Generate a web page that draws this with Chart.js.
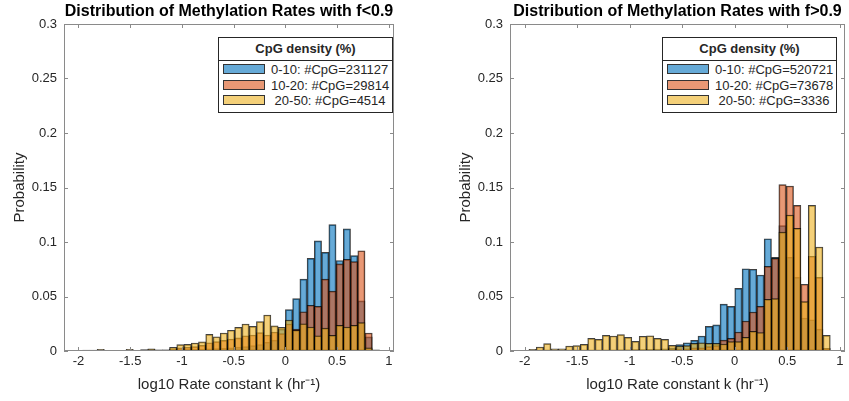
<!DOCTYPE html>
<html>
<head>
<meta charset="utf-8">
<script src="https://cdn.jsdelivr.net/npm/chart.js@4.4.1/dist/chart.umd.min.js"></script>
<style>
  html, body { margin: 0; padding: 0; background: #fff; }
  #wrap { position: relative; width: 849px; height: 401px; overflow: hidden; }
  canvas { position: absolute; top: 0; }
  .legend { position: absolute; top: 37px; width: 175px; height: 76px; border: 1px solid #262626;
            background: #fff; box-sizing: border-box; font-family: 'Liberation Sans', Arial, sans-serif; color: #262626; }
  .legend .head { position: absolute; left: 0; right: 0; top: 0; height: 22px; line-height: 21px; text-align: center;
                  font-weight: bold; font-size: 13px; border-bottom: 1px solid #262626; }
  .legend .row { position: absolute; left: 4px; height: 15px; width: 165px; font-size: 13px; line-height: 15px; white-space: pre; }
  .legend .sw { position: absolute; left: 0; top: 2px; width: 42px; height: 10px; border: 1px solid #333; box-sizing: border-box; }
  .legend .txt { position: absolute; left: 48px; top: 0; }
</style>
</head>
<body>
<div id="wrap">
  <canvas id="chartLow" width="420" height="401" style="left:0px"></canvas>
  <canvas id="chartHigh" width="419" height="401" style="left:430px"></canvas>
  <div class="legend" id="legendLow" style="left:218px"></div>
  <div class="legend" id="legendHigh" style="left:662px"></div>
</div>
<script>
// bin centres of the histograms (bin width 0.07)
const binCenters = [-1.995, -1.925, -1.855, -1.785, -1.715, -1.645, -1.575, -1.505, -1.435, -1.365,
                    -1.295, -1.225, -1.155, -1.085, -1.015, -0.945, -0.875, -0.805, -0.735, -0.665,
                    -0.595, -0.525, -0.455, -0.385, -0.315, -0.245, -0.175, -0.105, -0.035, 0.035,
                    0.105, 0.175, 0.245, 0.315, 0.385, 0.455, 0.525, 0.595, 0.665, 0.735,
                    0.805, 0.875];

const xTickVals = [-2, -1.5, -1, -0.5, 0, 0.5, 1];
const yTickVals = [0, 0.05, 0.1, 0.15, 0.2, 0.25, 0.3];

const legendTitle = 'CpG density (%)';
const legendLow = ['0-10: #CpG=231127', '10-20: #CpG=29814', ' 20-50: #CpG=4514'];
const legendHigh = ['0-10: #CpG=520721', '10-20: #CpG=73678', ' 20-50: #CpG=3336'];

// f < 0.9
const lowBlue = [0, 0.0003, 0.0002, 0.0005, 0.0003, 0.0002, 0.0005, 0.0004, 0.0004, 0.0005,
                 0.0006, 0.0006, 0.0008, 0.001, 0.0012, 0.0014, 0.0016, 0.0018, 0.002, 0.0022,
                 0.0025, 0.003, 0.0035, 0.004, 0.005, 0.006, 0.008, 0.010, 0.020, 0.038,
                 0.048, 0.066, 0.085, 0.101, 0.0905, 0.116, 0.083, 0.112, 0.0875, 0.046,
                 0.013, 0.001];
const lowOrange = [0, 0.0003, 0.0005, 0.0008, 0.0003, 0.0003, 0.0002, 0.0008, 0.0003, 0.0008,
                   0.0012, 0.0008, 0.0008, 0.002, 0.003, 0.0034, 0.004, 0.0052, 0.0076, 0.0086,
                   0.0098, 0.011, 0.012, 0.014, 0.0147, 0.0168, 0.0147, 0.0174, 0.016, 0.0248,
                   0.020, 0.036, 0.042, 0.041, 0.066, 0.055, 0.080, 0.084, 0.082, 0.092,
                   0.0165, 0.0005];
const lowYellow = [0, 0.0008, 0.0008, 0.0015, 0.0006, 0.0006, 0.0002, 0.0015, 0.0004, 0.0012,
                   0.002, 0.001, 0.001, 0.0034, 0.0058, 0.0061, 0.0073, 0.0083, 0.0153, 0.0131,
                   0.0165, 0.019, 0.0217, 0.0248, 0.0226, 0.0269, 0.033, 0.023, 0.0217, 0.0284,
                   0.019, 0.025, 0.022, 0.014, 0.021, 0.0144, 0.0235, 0.022, 0.0235, 0.026,
                   0.003, 0.0005];

// f > 0.9
const highBlue = [0.0005, 0.0003, 0.0003, 0.0003, 0.0003, 0.0004, 0.0004, 0.0005, 0.0005, 0.0006,
                  0.0007, 0.0008, 0.0009, 0.001, 0.0011, 0.0012, 0.0014, 0.0016, 0.0018, 0.002,
                  0.003, 0.0058, 0.0076, 0.0098, 0.0138, 0.0226, 0.024, 0.043, 0.041, 0.0575,
                  0.0755, 0.075, 0.0697, 0.103, 0.086, 0.115, 0.086, 0.0676, 0.0303, 0.0287,
                  0.02, 0.001];
const highOrange = [0.0003, 0.0003, 0.0002, 0.0003, 0.0002, 0.0002, 0.0003, 0.0003, 0.0004, 0.0005,
                    0.0005, 0.0006, 0.0006, 0.0007, 0.0007, 0.0008, 0.0008, 0.0009, 0.0009, 0.001,
                    0.0015, 0.002, 0.002, 0.003, 0.003, 0.004, 0.005, 0.010, 0.0116, 0.0174,
                    0.0275, 0.0358, 0.041, 0.0777, 0.085, 0.1526, 0.1514, 0.1336, 0.0612, 0.0869,
                    0.0676, 0.0024];
const highYellow = [0.0005, 0.0015, 0.0037, 0.0067, 0.002, 0.002, 0.0046, 0.0049, 0.0061, 0.0116,
                    0.0107, 0.0144, 0.0138, 0.015, 0.0125, 0.0089, 0.0135, 0.014, 0.0116, 0.0107,
                    0.0052, 0.0046, 0.005, 0.007, 0.0076, 0.007, 0.007, 0.0064, 0.0086, 0.0086,
                    0.0125, 0.018, 0.017, 0.0474, 0.048, 0.109, 0.1248, 0.1125, 0.0453, 0.1336,
                    0.0954, 0.0144];

const faceColors = ['rgba(0,114,189,0.6)', 'rgba(217,83,25,0.6)', 'rgba(237,177,32,0.6)'];
const edgeColor = 'rgba(0,0,0,0.75)';
const textColor = '#262626';
const axisColor = '#8a8a8a';
const fontFamily = "'Liberation Sans', Arial, Helvetica, sans-serif";

Chart.defaults.font.family = fontFamily;
Chart.defaults.color = textColor;

// title centred on the plot area, like MATLAB
const areaTitle = {
    id: 'areaTitle',
    afterDraw(chart, args, opts) {
        const {ctx, chartArea} = chart;
        ctx.save();
        ctx.font = 'bold 16px ' + fontFamily;
        ctx.fillStyle = '#000';
        ctx.textAlign = 'center';
        ctx.textBaseline = 'middle';
        ctx.fillText(opts.text, (chartArea.left + chartArea.right) / 2, 12);
        ctx.restore();
    }
};

// box around the axes with inward tick marks on all four sides
const frameTicks = {
    id: 'frameTicks',
    afterDraw(chart) {
        const {ctx, chartArea: a, scales: {x, y}} = chart;
        const len = 4;
        ctx.save();
        ctx.strokeStyle = axisColor;
        ctx.lineWidth = 1;
        ctx.strokeRect(Math.round(a.left) + 0.5, Math.round(a.top) + 0.5,
                       Math.round(a.width) - 1, Math.round(a.height) - 1);
        ctx.beginPath();
        x.ticks.forEach(t => {
            const px = Math.round(x.getPixelForValue(t.value)) + 0.5;
            ctx.moveTo(px, a.bottom); ctx.lineTo(px, a.bottom - len);
            ctx.moveTo(px, a.top); ctx.lineTo(px, a.top + len);
        });
        y.ticks.forEach(t => {
            const py = Math.round(y.getPixelForValue(t.value)) + 0.5;
            ctx.moveTo(a.left, py); ctx.lineTo(a.left + len, py);
            ctx.moveTo(a.right, py); ctx.lineTo(a.right - len, py);
        });
        ctx.stroke();
        ctx.restore();
    }
};

function buildLegend(id, labels) {
    const box = document.getElementById(id);
    const head = document.createElement('div');
    head.className = 'head';
    head.textContent = legendTitle;
    box.appendChild(head);
    const rowTops = [24, 39.5, 55];
    labels.forEach((lab, i) => {
        const row = document.createElement('div');
        row.className = 'row';
        row.style.top = rowTops[i] + 'px';
        const sw = document.createElement('div');
        sw.className = 'sw';
        sw.style.background = faceColors[i];
        const txt = document.createElement('div');
        txt.className = 'txt';
        txt.textContent = lab;
        row.appendChild(sw);
        row.appendChild(txt);
        box.appendChild(row);
    });
}

function makeChart(canvasId, title, series, labels, axisWidth, padRight, yTitlePad) {
    const datasets = series.map((vals, i) => ({
        label: labels[i],
        data: binCenters.map((c, j) => ({x: c, y: vals[j]})),
        backgroundColor: faceColors[i],
        borderColor: edgeColor,
        borderWidth: 1,
        borderSkipped: false,
        grouped: false,
        barPercentage: 1,
        categoryPercentage: 1,
        order: 3 - i
    }));

    new Chart(document.getElementById(canvasId), {
        type: 'bar',
        data: {datasets: datasets},
        plugins: [areaTitle, frameTicks],
        options: {
            responsive: false,
            animation: false,
            devicePixelRatio: 1,
            layout: {padding: {top: 24, right: padRight, bottom: 0, left: 0}},
            plugins: {
                legend: {display: false},
                tooltip: {enabled: false},
                areaTitle: {text: title}
            },
            scales: {
                x: {
                    type: 'linear',
                    min: -2.14,
                    max: 1.05,
                    offset: false,
                    afterBuildTicks: s => { s.ticks = xTickVals.map(v => ({value: v})); },
                    afterFit: s => { s.height = 50; },
                    ticks: {callback: v => String(v), padding: 3, maxRotation: 0, autoSkip: false,
                            font: {size: 13}, color: textColor},
                    grid: {display: false, drawTicks: false},
                    border: {display: false},
                    title: {display: true, text: 'log10 Rate constant k (hr\u207B\u00B9)',
                            font: {size: 15}, color: textColor, padding: {top: 0, bottom: 7}}
                },
                y: {
                    min: 0,
                    max: 0.3,
                    afterBuildTicks: s => { s.ticks = yTickVals.map(v => ({value: v})); },
                    afterFit: s => { s.width = axisWidth; },
                    ticks: {callback: v => String(v), padding: 7, font: {size: 13}, color: textColor},
                    grid: {display: false, drawTicks: false},
                    border: {display: false},
                    title: {display: true, text: 'Probability', font: {size: 15}, color: textColor,
                            padding: {top: yTitlePad, bottom: 0}}
                }
            }
        }
    });
}

makeChart('chartLow', 'Distribution of Methylation Rates with f<0.9',
          [lowBlue, lowOrange, lowYellow], legendLow, 64, 26, 11);
makeChart('chartHigh', 'Distribution of Methylation Rates with f>0.9',
          [highBlue, highOrange, highYellow], legendHigh, 80, 4, 27);
buildLegend('legendLow', legendLow);
buildLegend('legendHigh', legendHigh);
</script>
</body>
</html>
